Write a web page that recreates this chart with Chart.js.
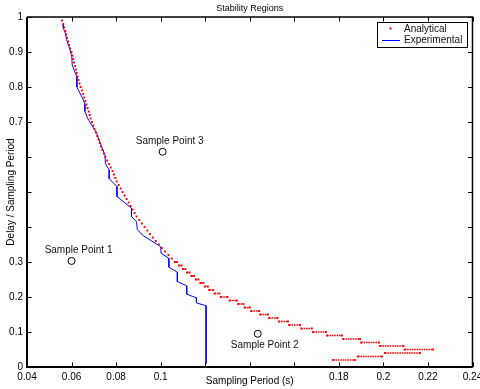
<!DOCTYPE html>
<html>
<head>
<meta charset="utf-8">
<script src="https://cdn.jsdelivr.net/npm/chart.js@4.4.1/dist/chart.umd.min.js"></script>
<style>
  html, body { margin: 0; padding: 0; background: #fff; }
</style>
</head>
<body>
<canvas id="stability" width="480" height="389"></canvas>
<script>
// Analytical boundary: one row per delay/period level, dots run from "from" to "to"
const analyticalLevel = [
  0.99, 0.98, 0.97, 0.96, 0.95, 0.94, 0.93, 0.92, 0.91, 0.90,
  0.89, 0.88, 0.87, 0.86, 0.85, 0.84, 0.83, 0.82, 0.81, 0.80,
  0.79, 0.78, 0.77, 0.76, 0.75, 0.74, 0.73, 0.72, 0.71, 0.70,
  0.69, 0.68, 0.67, 0.66, 0.65, 0.64, 0.63, 0.62, 0.61, 0.60,
  0.59, 0.58, 0.57, 0.56, 0.55, 0.54, 0.53, 0.52, 0.51, 0.50,
  0.49, 0.48, 0.47, 0.46, 0.45, 0.44, 0.43, 0.42, 0.41, 0.40,
  0.39, 0.38, 0.37, 0.36, 0.35, 0.34, 0.33, 0.32, 0.31, 0.30,
  0.29, 0.28, 0.27, 0.26, 0.25, 0.24, 0.23, 0.22, 0.21, 0.20,
  0.19, 0.18, 0.17, 0.16, 0.15, 0.14, 0.13, 0.12, 0.11, 0.10,
  0.09, 0.08, 0.07, 0.06, 0.05, 0.04, 0.03, 0.02
];
const analyticalFrom = [
  0.0557, 0.0563, 0.0567, 0.0572, 0.0576, 0.0580, 0.0585, 0.0589, 0.0594, 0.0600,
  0.0604, 0.0607, 0.0611, 0.0616, 0.0620, 0.0623, 0.0627, 0.0631, 0.0636, 0.0641,
  0.0647, 0.0652, 0.0657, 0.0662, 0.0667, 0.0672, 0.0677, 0.0681, 0.0686, 0.0692,
  0.0698, 0.0703, 0.0709, 0.0715, 0.0721, 0.0727, 0.0732, 0.0738, 0.0745, 0.0752,
  0.0760, 0.0768, 0.0776, 0.0784, 0.0791, 0.0797, 0.0803, 0.0812, 0.0821, 0.0829,
  0.0838, 0.0847, 0.0856, 0.0865, 0.0874, 0.0883, 0.0892, 0.0904, 0.0916, 0.0928,
  0.0940, 0.0952, 0.0965, 0.0978, 0.0992, 0.1006, 0.1020, 0.1035, 0.1050, 0.1064,
  0.1082, 0.1100, 0.1118, 0.1138, 0.1158, 0.1178, 0.1198, 0.1218, 0.1242, 0.1270,
  0.1310, 0.1348, 0.1377, 0.1406, 0.1447, 0.1487, 0.1530, 0.1577, 0.1631, 0.1684,
  0.1747, 0.1819, 0.1900, 0.1985, 0.2095, 0.2007, 0.1886, 0.1774
];
const analyticalTo = [
  0.0557, 0.0563, 0.0567, 0.0572, 0.0576, 0.0580, 0.0585, 0.0589, 0.0594, 0.0600,
  0.0604, 0.0607, 0.0611, 0.0616, 0.0620, 0.0623, 0.0627, 0.0631, 0.0636, 0.0641,
  0.0647, 0.0652, 0.0657, 0.0662, 0.0667, 0.0672, 0.0677, 0.0681, 0.0686, 0.0692,
  0.0698, 0.0703, 0.0709, 0.0715, 0.0721, 0.0727, 0.0732, 0.0738, 0.0745, 0.0752,
  0.0760, 0.0768, 0.0776, 0.0784, 0.0791, 0.0797, 0.0803, 0.0812, 0.0821, 0.0829,
  0.0838, 0.0847, 0.0856, 0.0865, 0.0874, 0.0883, 0.0892, 0.0904, 0.0916, 0.0928,
  0.0940, 0.0952, 0.0965, 0.0978, 0.0992, 0.1006, 0.1020, 0.1035, 0.1050, 0.1074,
  0.1094, 0.1112, 0.1130, 0.1150, 0.1170, 0.1192, 0.1212, 0.1236, 0.1264, 0.1300,
  0.1343, 0.1372, 0.1401, 0.1442, 0.1482, 0.1525, 0.1572, 0.1626, 0.1679, 0.1742,
  0.1814, 0.1895, 0.1980, 0.2090, 0.2223, 0.2164, 0.1994, 0.1872
];

// Experimental boundary (staircase)
const experimentalX = [
  0.0563, 0.0563, 0.0572, 0.0578, 0.0593, 0.0601, 0.0603, 0.0623, 0.0624, 0.0653,
  0.0660, 0.0660, 0.0672, 0.0681, 0.0713, 0.0728, 0.0750, 0.0752, 0.0769, 0.0769,
  0.0803, 0.0804, 0.0869, 0.0869, 0.0892, 0.0895, 0.0922, 0.1000, 0.1002, 0.1036,
  0.1037, 0.1075, 0.1075, 0.1117, 0.1117, 0.1159, 0.1161, 0.1204, 0.1204
];
const experimentalY = [
  0.981, 0.968, 0.954, 0.935, 0.906, 0.887, 0.863, 0.830, 0.800, 0.763,
  0.752, 0.730, 0.711, 0.701, 0.668, 0.641, 0.606, 0.581, 0.563, 0.538,
  0.516, 0.487, 0.454, 0.430, 0.415, 0.393, 0.375, 0.344, 0.325, 0.311,
  0.285, 0.271, 0.244, 0.232, 0.208, 0.198, 0.183, 0.175, 0.010
];

// Sample points
const sampleNames = ["Sample Point 1", "Sample Point 2", "Sample Point 3"];
const sampleX = [0.060, 0.1436, 0.1009];
const sampleY = [0.303, 0.095, 0.615];

// Ticks (blank labels are hidden by the axis titles in the original)
const xTickValues = [0.04, 0.06, 0.08, 0.10, 0.12, 0.14, 0.16, 0.18, 0.20, 0.22, 0.24];
const xTickLabels = ["0.04", "0.06", "0.08", "0.1", "", "", "", "0.18", "0.2", "0.22", "0.24"];
const yTickValues = [0, 0.1, 0.2, 0.3, 0.4, 0.5, 0.6, 0.7, 0.8, 0.9, 1];
const yTickLabels = ["0", "0.1", "0.2", "0.3", "", "", "", "0.7", "0.8", "0.9", "1"];

const FONT = '"Liberation Sans", Arial, Helvetica, sans-serif';

// build the dotted runs, a null y breaks the line between levels
const analyticalData = [];
analyticalLevel.forEach((lv, i) => {
  analyticalData.push({ x: analyticalFrom[i], y: lv });
  if (analyticalTo[i] > analyticalFrom[i]) analyticalData.push({ x: analyticalTo[i], y: lv });
  analyticalData.push({ x: analyticalTo[i], y: null });
});
const experimentalData = experimentalX.map((x, i) => ({ x: x, y: experimentalY[i] }));
const sampleData = sampleX.map((x, i) => ({ x: x, y: sampleY[i] }));

// MATLAB style box, inward ticks, sample labels and legend
const matlabAxes = {
  id: "matlabAxes",
  afterDraw(chart) {
    const { ctx, chartArea: a, scales } = chart;
    const x = scales.x, y = scales.y;
    const tl = 4.5;
    ctx.save();
    ctx.strokeStyle = "#000";
    ctx.lineWidth = 1;
    ctx.beginPath();
    x.ticks.forEach(t => {
      const px = Math.round(x.getPixelForValue(t.value)) + 0.5;
      ctx.moveTo(px, a.bottom); ctx.lineTo(px, a.bottom - tl);
      ctx.moveTo(px, a.top); ctx.lineTo(px, a.top + tl);
    });
    y.ticks.forEach(t => {
      const py = Math.round(y.getPixelForValue(t.value)) + 0.5;
      ctx.moveTo(a.left, py); ctx.lineTo(a.left + tl, py);
      ctx.moveTo(a.right, py); ctx.lineTo(a.right - tl, py);
    });
    ctx.stroke();

    // axes box
    ctx.lineWidth = 1.5;
    ctx.beginPath();
    ctx.moveTo(a.left, a.top); ctx.lineTo(a.right, a.top); ctx.lineTo(a.right, a.bottom);
    ctx.stroke();
    ctx.lineWidth = 2;
    ctx.beginPath();
    ctx.moveTo(a.left, a.top); ctx.lineTo(a.left, a.bottom); ctx.lineTo(a.right, a.bottom);
    ctx.stroke();

    // sample point labels
    ctx.fillStyle = "#111";
    ctx.font = "10px " + FONT;
    ctx.textAlign = "center";
    ctx.textBaseline = "middle";
    sampleNames.forEach((name, i) => {
      const px = x.getPixelForValue(sampleX[i]);
      const py = y.getPixelForValue(sampleY[i]);
      const dy = i === 1 ? 11 : -11;
      ctx.fillText(name, px + 7, py + dy);
    });

    // legend box
    const lx = a.right - 95.5, ly = a.top + 5, lw = 90, lh = 25;
    ctx.fillStyle = "#fff";
    ctx.fillRect(lx, ly, lw, lh);
    ctx.lineWidth = 1;
    ctx.strokeRect(lx + 0.5, ly + 0.5, lw, lh);
    const ds = chart.data.datasets;
    ctx.fillStyle = ds[0].backgroundColor;
    ctx.fillRect(lx + 12.5, ly + 5.5, 2, 2);
    ctx.strokeStyle = ds[1].borderColor;
    ctx.beginPath();
    ctx.moveTo(lx + 5, ly + 18.5); ctx.lineTo(lx + 23, ly + 18.5);
    ctx.stroke();
    ctx.fillStyle = "#111";
    ctx.textAlign = "left";
    ctx.fillText(ds[0].label, lx + 27, ly + 7);
    ctx.fillText(ds[1].label, lx + 27, ly + 18.5);
    ctx.restore();
  }
};

new Chart(document.getElementById("stability").getContext("2d"), {
  type: "scatter",
  data: {
    datasets: [{
      label: "Analytical",
      data: analyticalData,
      showLine: true,
      borderColor: "#ff0000",
      backgroundColor: "#ff0000",
      borderWidth: 1.6,
      borderDash: [1.6, 0.8],
      pointStyle: "rect",
      pointRadius: 1.3,
      pointBorderWidth: 0
    }, {
      label: "Experimental",
      data: experimentalData,
      showLine: true,
      borderColor: "#0000ff",
      backgroundColor: "#0000ff",
      borderWidth: 1,
      pointRadius: 0,
      tension: 0
    }, {
      label: "Sample Points",
      data: sampleData,
      pointStyle: "circle",
      pointRadius: 3.5,
      borderColor: "#000",
      backgroundColor: "rgba(255,255,255,0)",
      pointBorderWidth: 1
    }]
  },
  options: {
    responsive: false,
    animation: false,
    layout: { padding: { left: 0, right: 7.5, top: 0, bottom: 0 } },
    plugins: {
      legend: { display: false },
      tooltip: { enabled: false },
      title: {
        display: true,
        text: "Stability Regions",
        fullSize: false,
        color: "#000",
        font: { family: FONT, size: 9, weight: "normal" },
        padding: { top: 3.5, bottom: 2.7 }
      }
    },
    scales: {
      x: {
        type: "linear",
        min: 0.04,
        max: 0.24,
        grid: { display: false, drawTicks: false },
        border: { display: false },
        afterBuildTicks: s => { s.ticks = xTickValues.map(v => ({ value: v })); },
        afterFit: s => { s.height = 22; s.paddingLeft = 0; s.paddingRight = 0; },
        ticks: {
          padding: 4,
          maxRotation: 0,
          autoSkip: false,
          color: "#000",
          font: { family: FONT, size: 10 },
          callback: (v, i) => xTickLabels[i]
        },
        title: {
          display: true,
          text: "Sampling Period (s)",
          color: "#000",
          font: { family: FONT, size: 10 },
          padding: { top: 0, bottom: 2 }
        }
      },
      y: {
        type: "linear",
        min: 0,
        max: 1,
        grid: { display: false, drawTicks: false },
        border: { display: false },
        afterBuildTicks: s => { s.ticks = yTickValues.map(v => ({ value: v })); },
        afterFit: s => { s.width = 27; s.paddingTop = 0; s.paddingBottom = 0; },
        ticks: {
          padding: 4,
          autoSkip: false,
          color: "#000",
          font: { family: FONT, size: 10 },
          callback: (v, i) => yTickLabels[i]
        },
        title: {
          display: true,
          text: "Delay / Sampling Period",
          color: "#000",
          font: { family: FONT, size: 10 },
          padding: { top: 5, bottom: 0 }
        }
      }
    }
  },
  plugins: [matlabAxes]
});
</script>
</body>
</html>
